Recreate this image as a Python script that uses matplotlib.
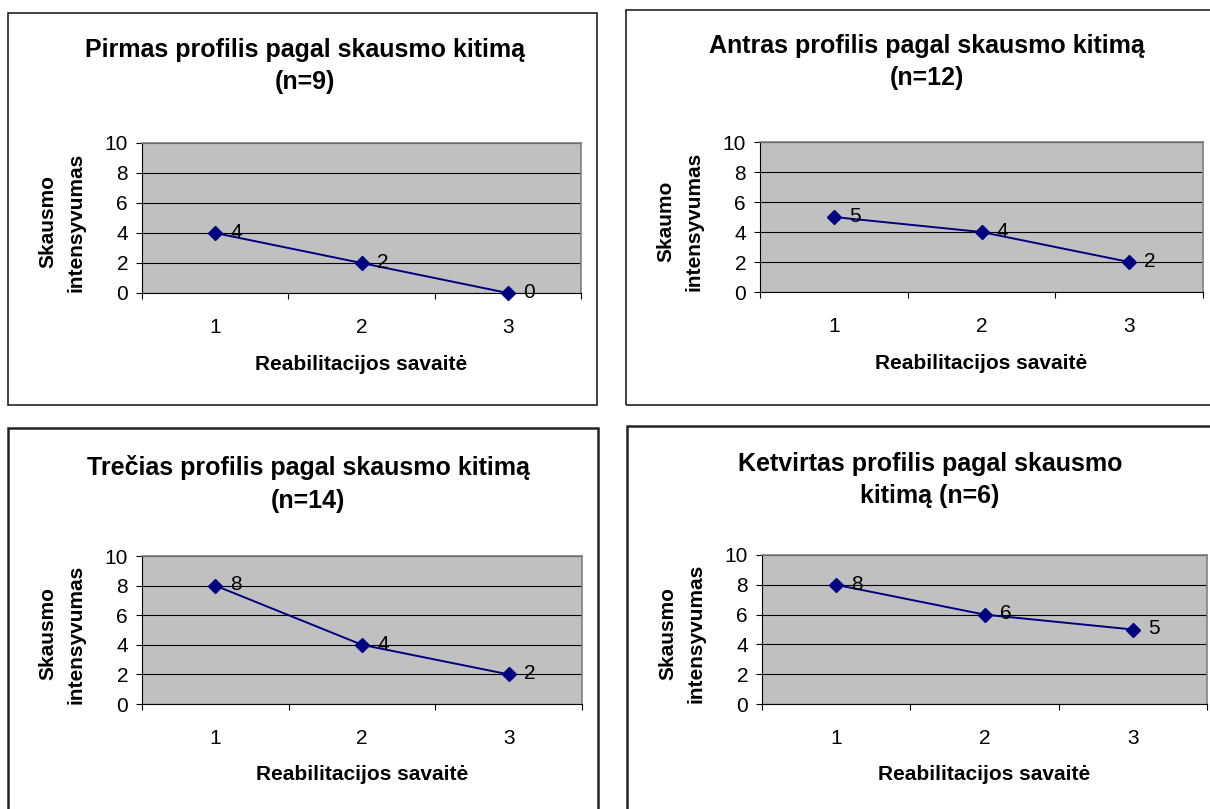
import matplotlib
matplotlib.use("Agg")
import matplotlib.pyplot as plt
from matplotlib.patches import Rectangle

plt.rcParams["font.family"] = ["Liberation Sans", "DejaVu Sans"]

# -------------------------
# Data
# -------------------------

weeks = [1, 2, 3]

pirmas = [4, 2, 0]
antras = [5, 4, 2]
trecias = [8, 4, 2]
ketvirtas = [8, 6, 5]

titles = [
    "Pirmas profilis pagal skausmo kitimą\n(n=9)",
    "Antras profilis pagal skausmo kitimą\n(n=12)",
    "Trečias profilis pagal skausmo kitimą\n(n=14)",
    "Ketvirtas profilis pagal skausmo\nkitimą (n=6)",
]
ylabels = [
    "Skausmo\nintensyvumas",
    "Skaumo\nintensyvumas",
    "Skausmo\nintensyvumas",
    "Skausmo\nintensyvumas",
]
xlabel = "Reabilitacijos savaitė"
series = [pirmas, antras, trecias, ketvirtas]

# -------------------------
# Layout (pixels)
# -------------------------

W, H = 1210, 809
NAVY = "#000080"

# box (x0, y0, x1, y1), plot area (x0, y_top, x1, y_bottom)
boxes = [(8, 13, 597, 405), (626, 10, 1212, 405), (8, 428, 598, 815), (627, 426, 1212, 815)]
plots = [(142, 143, 581, 293), (760, 142, 1203, 292), (142, 556, 582, 704), (762, 555, 1207, 704)]
title_y = [66, 62, 484, 480]
title_x = [305, 927, 308, 930]
ylab_x = [62, 680, 62, 682]
xlab_y = [365, 364, 775, 775]


def fx(px):
    return px / W


def fy(py):
    return 1 - py / H


fig = plt.figure(figsize=(W / 100, H / 100), dpi=100)

for i in range(4):
    bx0, by0, bx1, by1 = boxes[i]
    lw = 1.2 if i < 2 else 1.8
    fig.add_artist(Rectangle((fx(bx0), fy(by1)), fx(bx1 - bx0), (by1 - by0) / H,
                             transform=fig.transFigure, fill=False,
                             edgecolor="#222222", linewidth=lw))

    px0, pt, px1, pb = plots[i]
    ax = fig.add_axes([fx(px0), fy(pb), fx(px1 - px0), (pb - pt) / H])
    ax.set_facecolor("#C0C0C0")
    ax.set_xlim(0.5, 3.5)
    ax.set_ylim(0, 10)
    ax.set_yticks(range(0, 11, 2))
    ax.set_xticks(weeks)
    ax.set_xticks([0.5, 1.5, 2.5, 3.5], minor=True)
    ax.tick_params(axis="x", which="major", length=0, pad=18, labelsize=15)
    ax.tick_params(axis="x", which="minor", length=4.5, width=0.8, direction="out")
    ax.tick_params(axis="y", length=4.5, width=0.8, pad=5.5, labelsize=15)
    ax.set_axisbelow(True)
    ax.grid(axis="y", color="black", linewidth=0.8)
    for s in ["top", "right"]:
        ax.spines[s].set_color("#808080")
        ax.spines[s].set_linewidth(1.2)
    for s in ["left", "bottom"]:
        ax.spines[s].set_color("black")
        ax.spines[s].set_linewidth(0.8)

    vals = series[i]
    ax.plot(weeks, vals, color=NAVY, linewidth=1.4, marker="D",
            markersize=7, clip_on=False, zorder=3)
    for xv, yv in zip(weeks, vals):
        ax.annotate(str(yv), (xv, yv), xytext=(11, 0.5), textcoords="offset points",
                    ha="left", va="center", fontsize=15, zorder=4)

    fig.text(fx(title_x[i]), fy(title_y[i]), titles[i], ha="center", va="center",
             fontsize=18, fontweight="bold", linespacing=1.45)
    fig.text(fx(ylab_x[i]), fy((pt + pb) / 2 + 4), ylabels[i], ha="center", va="center",
             rotation=90, fontsize=15, fontweight="bold", linespacing=1.6)
    fig.text(fx((px0 + px1) / 2), fy(xlab_y[i]), xlabel, ha="center", va="center",
             fontsize=15, fontweight="bold")

fig.savefig("out.png", dpi=100)
